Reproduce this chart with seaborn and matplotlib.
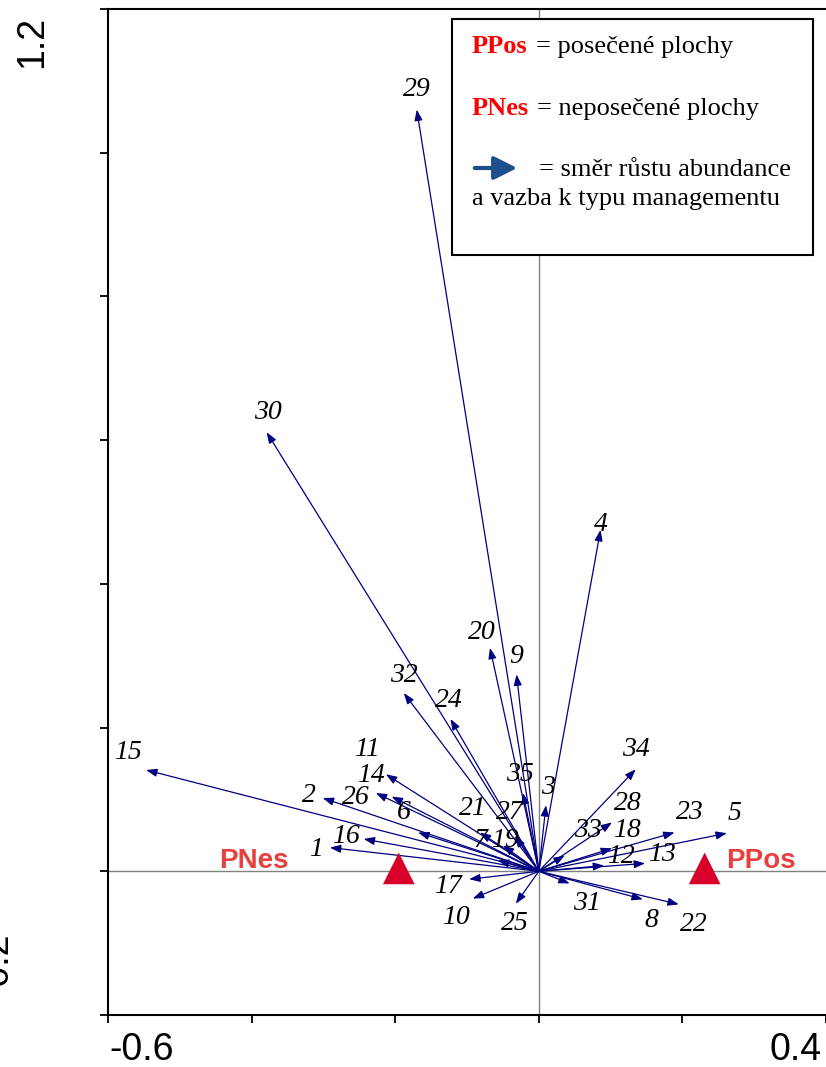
import numpy as np
import matplotlib.pyplot as plt
from matplotlib.patches import Rectangle, FancyArrowPatch
import seaborn as sns

# species arrows (CCA biplot scores)
species = ['1', '2', '3', '4', '5', '6', '7', '8', '9', '10', '11', '12', '13', '14',
           '15', '16', '17', '18', '19', '20', '21', '22', '23', '24', '25', '26', '27',
           '28', '29', '30', '31', '32', '33', '34', '35']
arrow_x = [-0.291, -0.301, 0.010, 0.086, 0.262, -0.168, -0.057, 0.145, -0.031, -0.092,
           -0.213, 0.091, 0.148, -0.205, -0.547, -0.244, -0.097, 0.102, -0.050, -0.068,
           -0.082, 0.195, 0.189, -0.123, -0.032, -0.227, -0.033, 0.102, -0.170, -0.379,
           0.043, -0.188, 0.036, 0.135, -0.022]
arrow_y = [0.033, 0.102, 0.092, 0.475, 0.053, 0.054, 0.015, -0.039, 0.274, -0.038,
           0.135, 0.008, 0.011, 0.104, 0.141, 0.045, -0.011, 0.032, 0.036, 0.311,
           0.054, -0.046, 0.054, 0.212, -0.045, 0.109, 0.049, 0.068, 1.060, 0.611,
           -0.017, 0.248, 0.022, 0.142, 0.109]
label_x = [-0.311, -0.320, 0.013, 0.086, 0.273, -0.188, -0.082, 0.157, -0.032, -0.116,
           -0.240, 0.114, 0.171, -0.234, -0.572, -0.269, -0.127, 0.123, -0.047, -0.079,
           -0.092, 0.216, 0.210, -0.125, -0.033, -0.255, -0.040, 0.124, -0.170, -0.377,
           0.067, -0.188, 0.068, 0.135, -0.026]
label_y = [0.031, 0.106, 0.117, 0.482, 0.081, 0.082, 0.043, -0.068, 0.299, -0.065,
           0.170, 0.021, 0.024, 0.133, 0.166, 0.049, -0.021, 0.057, 0.043, 0.333,
           0.088, -0.074, 0.082, 0.238, -0.072, 0.103, 0.082, 0.095, 1.088, 0.639,
           -0.045, 0.273, 0.057, 0.169, 0.135]

# management centroids
site_names = ['PNes', 'PPos']
site_x = [-0.195, 0.231]
site_y = [0.004, 0.004]

sns.set_style('white')
plt.rcParams['font.family'] = ['Liberation Serif', 'DejaVu Serif']

W, H = 826, 1067
fig = plt.figure(figsize=(W / 100, H / 100), dpi=100)
ax = fig.add_axes([108 / W, 1 - 1015 / H, 718 / W, 1006 / H])

ax.axhline(0, color='#808080', lw=1, zorder=1)
ax.axvline(0, color='#808080', lw=1, zorder=1)

for x, y in zip(arrow_x, arrow_y):
    ax.annotate('', xy=(x, y), xytext=(0, 0),
                arrowprops=dict(arrowstyle='-|>,head_length=0.65,head_width=0.24',
                                color='#000080', lw=0.9, mutation_scale=10,
                                shrinkA=0, shrinkB=0), zorder=3)

for name, x, y in zip(species, label_x, label_y):
    ax.text(x, y, name, ha='center', va='center', fontsize=20, style='italic',
            color='black', zorder=4)

sns.scatterplot(x=site_x, y=site_y, marker='^', s=520, color='#D8002A',
                edgecolor='none', ax=ax, zorder=5, legend=False)
ax.text(-0.349, 0.014, site_names[0], ha='right', va='center', fontsize=20,
        fontweight='bold', family='Liberation Sans', color='#E8403F')
ax.text(0.261, 0.014, site_names[1], ha='left', va='center', fontsize=20,
        fontweight='bold', family='Liberation Sans', color='#E8403F')

ax.set_xlim(-0.6, 0.4)
ax.set_ylim(-0.2, 1.2)
ax.set_xticks(np.arange(-0.6, 0.41, 0.2))
ax.set_yticks(np.arange(-0.2, 1.21, 0.2))
ax.set_xticklabels([])
ax.set_yticklabels([])
ax.tick_params(direction='out', length=6, width=1.3, color='black',
               left=True, bottom=True)
for side in ['left', 'bottom', 'top']:
    ax.spines[side].set_color('black')
    ax.spines[side].set_linewidth(1.5)
ax.spines['right'].set_visible(False)

# axis end labels (drawn as in the original export)
def fp(px, py):
    return px / W, 1 - py / H

tick_font = dict(family='Liberation Sans', fontsize=27, color='black')
fig.text(*fp(142, 1050), '-0.6', ha='center', va='center', **tick_font)
fig.text(*fp(796, 1050), '0.4', ha='center', va='center', **tick_font)
fig.text(*fp(32, 42), '1.2', ha='center', va='center', rotation=90, **tick_font)
fig.text(*fp(-3, 965), '-0.2', ha='center', va='center', rotation=90, **tick_font)

# legend box
fig.patches.append(Rectangle(fp(452, 255), 361 / W, 236 / H, transform=fig.transFigure,
                             facecolor='white', edgecolor='black', lw=1.5, zorder=6))
leg_font = dict(fontsize=19, va='baseline', zorder=7)
fig.text(*fp(472, 53), 'PPos', color='#FF0000', fontweight='bold', **leg_font)
fig.text(*fp(536, 53), '= posečené plochy', color='black', **leg_font)
fig.text(*fp(472, 115), 'PNes', color='#FF0000', fontweight='bold', **leg_font)
fig.text(*fp(537, 115), '= neposečené plochy', color='black', **leg_font)
fig.patches.append(FancyArrowPatch(fp(472, 168), fp(520, 168), transform=fig.transFigure,
                                   arrowstyle='-|>,head_length=1.0,head_width=0.5',
                                   mutation_scale=14, color='#1F4E8C', lw=3, zorder=7))
fig.text(*fp(539, 176), '= směr růstu abundance', color='black', **leg_font)
fig.text(*fp(472, 205), 'a vazba k typu managementu', color='black', **leg_font)

fig.savefig('out.png', dpi=100)
